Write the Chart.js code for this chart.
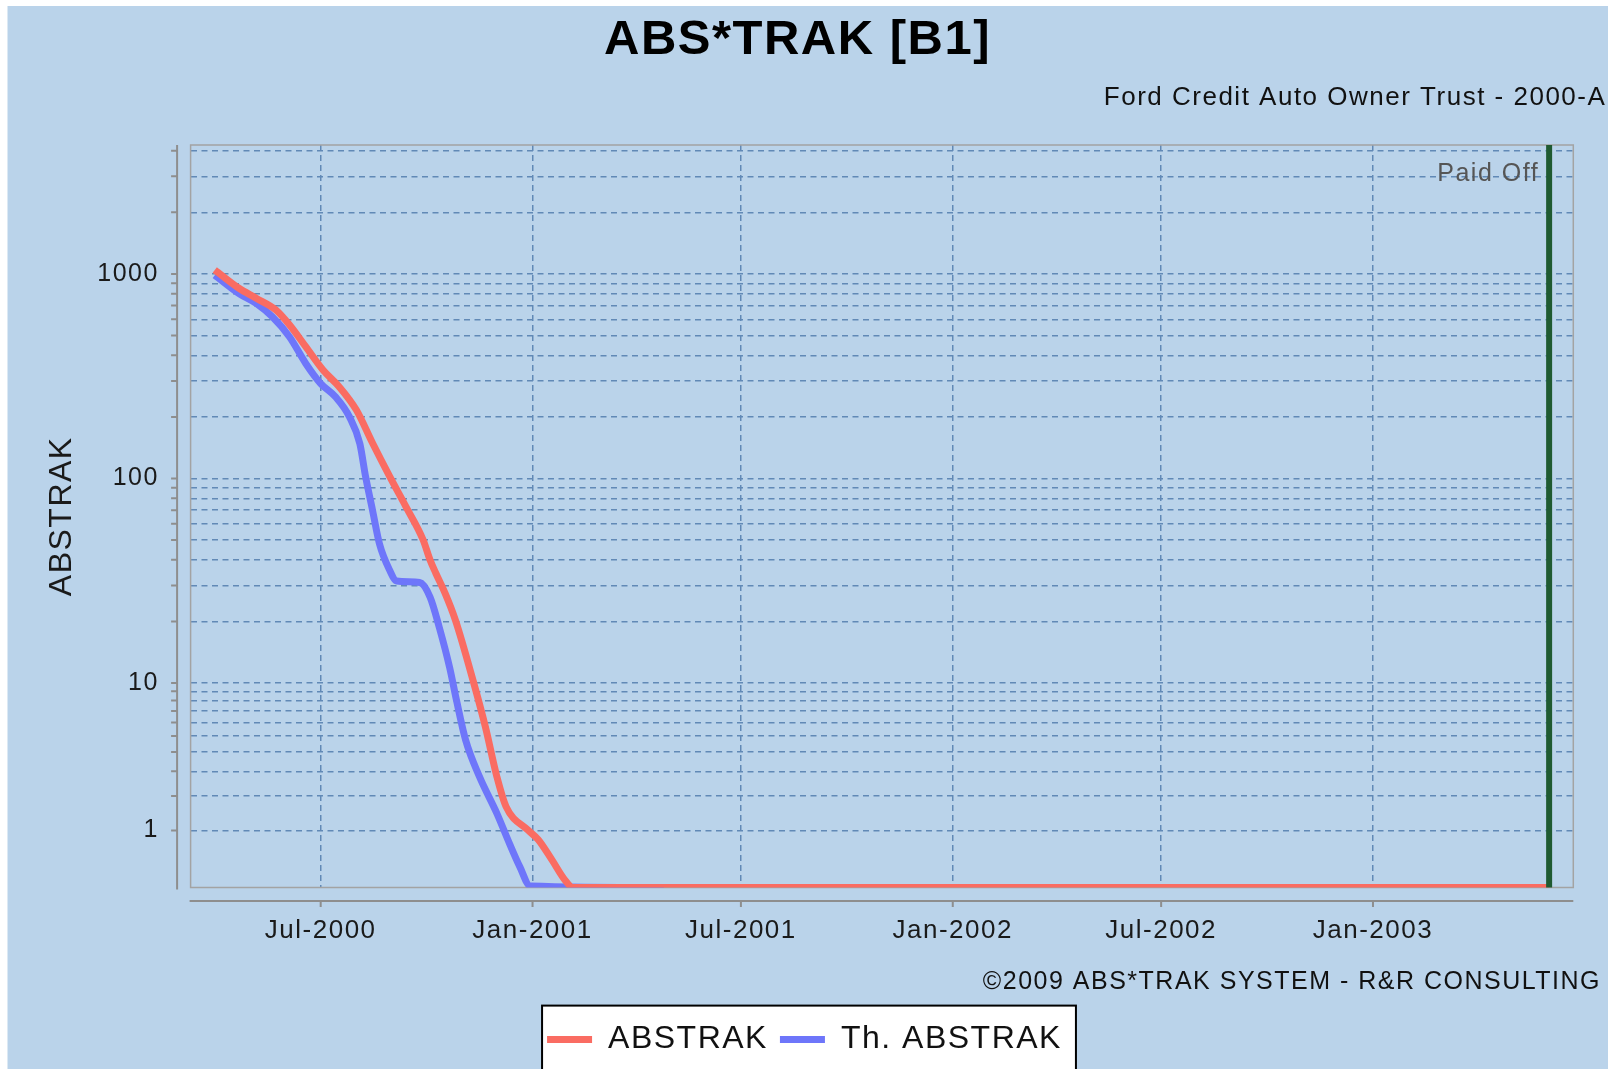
<!DOCTYPE html>
<html>
<head>
<meta charset="utf-8">
<title>ABS*TRAK [B1]</title>
<script src="https://cdn.jsdelivr.net/npm/chart.js@4.4.1/dist/chart.umd.min.js"></script>
<style>
    html, body { margin: 0; padding: 0; background: #fff; }
    #chart { display: block; }
</style>
</head>
<body>
<canvas id="chart" width="1616" height="1069"></canvas>
<script>
(function () {
    "use strict";

    // ABSTRAK series (dates / values)
    var abstrakDates = ['2000-03-31', '2000-04-21', '2000-05-06', '2000-05-23', '2000-06-04', '2000-06-18',
        '2000-07-03', '2000-07-17', '2000-08-01', '2000-08-15', '2000-08-30', '2000-09-13', '2000-09-28',
        '2000-10-04', '2000-10-09', '2000-10-17', '2000-10-26', '2000-11-11', '2000-11-21', '2000-12-01',
        '2000-12-09', '2000-12-28', '2001-01-06', '2001-01-18', '2001-01-29', '2001-02-05', '2003-06-03'];
    var abstrakValues = [1046, 851, 761, 667, 563, 441,
        339, 281, 216, 149, 102, 72.8, 50,
        39.9, 34.4, 27.5, 20.3, 9.96, 5.68, 2.76,
        1.65, 1.01, 0.79, 0.40, 0.10, 0, 0];

    // Th. ABSTRAK series
    var theoryDates = ['2000-03-31', '2000-04-21', '2000-05-06', '2000-05-20', '2000-06-04', '2000-06-18',
        '2000-07-01', '2000-07-14', '2000-07-26', '2000-08-04', '2000-08-09', '2000-08-15', '2000-08-21',
        '2000-08-30', '2000-09-05', '2000-09-25', '2000-10-04', '2000-10-12', '2000-10-21', '2000-10-27',
        '2000-11-04', '2000-11-16', '2000-12-01', '2000-12-12', '2000-12-21', '2000-12-30', '2001-04-25'];
    var theoryValues = [986, 802, 717, 617, 492, 365,
        291, 250, 200, 148, 102, 70, 48,
        35.5, 31.5, 31, 26.3, 18.7, 11.9, 8.0,
        4.7, 2.75, 1.45, 0.71, 0.29, 0.02, 0];

    // Axes
    var xTickDates = ['2000-07-01', '2001-01-01', '2001-07-01', '2002-01-01', '2002-07-01', '2003-01-01'];
    var xTickLabels = ['Jul-2000', 'Jan-2001', 'Jul-2001', 'Jan-2002', 'Jul-2002', 'Jan-2003'];
    var xRange = ['2000-03-10', '2003-06-24'];
    var yLabelValues = [1, 10, 100, 1000];
    var yMax = 4270;
    var paidOffDate = '2003-06-03';

    var titleText = 'ABS*TRAK [B1]';
    var subtitleText = 'Ford Credit Auto Owner Trust - 2000-A';
    var footerText = '\u00a92009 ABS*TRAK SYSTEM - R&R CONSULTING';
    var paidOffText = 'Paid Off';

    var BG = '#bad3ea';
    var GRID = '#6189b6';
    var FONT = "'Liberation Sans', Arial, sans-serif";
    var SPACING = '1.5px';
    var LEGEND_SHIFT = 7;


    // log axis as in the original: values below 10 are squeezed toward 0
    function adjLog(v) {
        var neg = v < 0;
        var a = Math.abs(v);
        if (a < 10) a += (10 - a) / 10;
        var r = Math.log10(a);
        return neg ? -r : r;
    }
    function adjExp(r) {
        var neg = r < 0;
        var a = Math.pow(10, Math.abs(r));
        if (a < 10) a = (a - 1) / 0.9;
        return neg ? -a : a;
    }

    class AdjLogScale extends Chart.LinearScale {
        buildTicks() {
            this.start = this.min;
            this.end = this.max;
            var ticks = [];
            for (var d = 1; d <= this.max; d *= 10) {
                for (var m = 1; m <= 9 && m * d <= this.max; m++) {
                    ticks.push({value: m * d});
                }
            }
            return ticks;
        }
        configure() {
            super.configure();
            this._adjStart = adjLog(this.min);
            this._adjRange = adjLog(this.max) - this._adjStart;
        }
        getPixelForValue(value) {
            return this.getPixelForDecimal((adjLog(value) - this._adjStart) / this._adjRange);
        }
        getValueForPixel(pixel) {
            return adjExp(this.getDecimalForPixel(pixel) * this._adjRange + this._adjStart);
        }
    }
    AdjLogScale.id = 'adjlog';
    AdjLogScale.defaults = Chart.LinearScale.defaults;
    Chart.register(AdjLogScale);


    function toPoints(dates, values) {
        return dates.map(function (d, i) {
            return {x: Date.parse(d), y: values[i]};
        });
    }


    // background, legend frame, offset axes, paid-off marker, extra texts
    var decor = {
        id: 'decor',
        beforeLayout: function (chart) {
            chart.ctx.letterSpacing = SPACING;
        },
        afterLayout: function (chart) {
            var lg = chart.legend;
            lg.left += LEGEND_SHIFT;
            lg.right += LEGEND_SHIFT;
            (lg.legendHitBoxes || []).forEach(function (h) {
                h.left += LEGEND_SHIFT;
            });
        },
        beforeDraw: function (chart) {
            var ctx = chart.ctx;
            ctx.letterSpacing = SPACING;
            ctx.save();
            ctx.fillStyle = BG;
            ctx.fillRect(7.5, 6, 1600.5, chart.height - 6);

            var hb = chart.legend.legendHitBoxes;
            if (hb && hb.length) {
                var first = hb[0], last = hb[hb.length - 1];
                var mid = first.top + first.height / 2;
                var left = first.left - 5;
                var right = last.left + last.width + 14;
                ctx.fillStyle = '#ffffff';
                ctx.fillRect(left, mid - 34, right - left, 80);
                ctx.strokeStyle = '#000000';
                ctx.lineWidth = 2;
                ctx.strokeRect(left, mid - 34, right - left, 80);
            }
            ctx.restore();
        },
        beforeDatasetsDraw: function (chart) {
            var ctx = chart.ctx;
            var a = chart.chartArea;
            var xs = chart.scales.x, ys = chart.scales.y;
            ctx.save();
            ctx.strokeStyle = '#a3a3a3';
            ctx.lineWidth = 1.5;
            ctx.strokeRect(a.left, a.top, a.right - a.left, a.bottom - a.top);

            ctx.strokeStyle = '#8e8e8e';
            ctx.lineWidth = 2;
            var axX = a.left - 13.5;
            ctx.beginPath();
            ctx.moveTo(axX, a.top);
            ctx.lineTo(axX, a.bottom + 2);
            ys.ticks.forEach(function (t) {
                var py = ys.getPixelForValue(t.value);
                ctx.moveTo(axX - 6, py);
                ctx.lineTo(axX, py);
            });
            var axY = a.bottom + 13.5;
            ctx.moveTo(a.left - 1, axY);
            ctx.lineTo(a.right, axY);
            xs.ticks.forEach(function (t) {
                var px = xs.getPixelForValue(t.value);
                ctx.moveTo(px, axY);
                ctx.lineTo(px, axY + 6);
            });
            ctx.stroke();
            ctx.restore();
        },
        afterDatasetsDraw: function (chart) {
            var ctx = chart.ctx;
            var a = chart.chartArea;
            var px = chart.scales.x.getPixelForValue(Date.parse(paidOffDate));
            ctx.save();
            ctx.strokeStyle = '#1f5a31';
            ctx.lineWidth = 6;
            ctx.beginPath();
            ctx.moveTo(px, a.top);
            ctx.lineTo(px, a.bottom);
            ctx.stroke();
            ctx.font = '25px ' + FONT;
            ctx.fillStyle = '#555555';
            ctx.textAlign = 'right';
            ctx.textBaseline = 'middle';
            ctx.fillText(paidOffText, px - 10, a.top + 29);
            ctx.restore();
        },
        afterDraw: function (chart) {
            var ctx = chart.ctx;
            ctx.save();
            ctx.fillStyle = '#111111';
            ctx.textAlign = 'right';
            ctx.textBaseline = 'middle';
            ctx.font = '26px ' + FONT;
            ctx.fillText(subtitleText, 1606.3, 98.1);
            ctx.font = '25px ' + FONT;
            ctx.fillText(footerText, 1601, 982);
            ctx.restore();
        }
    };


    Chart.defaults.font.family = FONT;
    Chart.defaults.color = '#111111';

    var ctx = document.getElementById('chart').getContext('2d');
    var myChart = new Chart(ctx, {
        type: 'line',
        data: {
            datasets: [{
                label: 'ABSTRAK',
                data: toPoints(abstrakDates, abstrakValues),
                borderColor: '#fa6c62',
                backgroundColor: '#fa6c62',
                borderWidth: 7,
                pointRadius: 0,
                cubicInterpolationMode: 'monotone',
                fill: false
            }, {
                label: 'Th. ABSTRAK',
                data: toPoints(theoryDates, theoryValues),
                borderColor: '#6e76fa',
                backgroundColor: '#6e76fa',
                borderWidth: 7,
                pointRadius: 0,
                cubicInterpolationMode: 'monotone',
                fill: false
            }]
        },
        options: {
            responsive: false,
            animation: false,
            events: [],
            layout: {
                padding: {left: 21.7, right: 42.7, top: 0, bottom: 3.4}
            },
            scales: {
                x: {
                    type: 'linear',
                    min: Date.parse(xRange[0]),
                    max: Date.parse(xRange[1]),
                    afterBuildTicks: function (scale) {
                        scale.ticks = xTickDates.map(function (d) {
                            return {value: Date.parse(d)};
                        });
                    },
                    afterFit: function (scale) {
                        scale.height = 124.1;
                    },
                    ticks: {
                        autoSkip: false,
                        maxRotation: 0,
                        padding: 28,
                        color: '#1a1a1a',
                        font: {size: 26},
                        callback: function (value, index) {
                            return xTickLabels[index];
                        }
                    },
                    grid: {
                        color: GRID,
                        lineWidth: 1.5,
                        drawTicks: false
                    },
                    border: {display: false, dash: [6, 4]}
                },
                y: {
                    type: 'adjlog',
                    min: 0,
                    max: yMax,
                    afterFit: function (scale) {
                        scale.width = 168.9;
                    },
                    title: {
                        display: true,
                        text: 'ABSTRAK',
                        color: '#1a1a1a',
                        font: {size: 32},
                        padding: {top: 21.5, bottom: 0}
                    },
                    ticks: {
                        autoSkip: false,
                        padding: 31.7,
                        color: '#1a1a1a',
                        font: {size: 25},
                        callback: function (value) {
                            return yLabelValues.indexOf(value) >= 0 ? String(value) : '';
                        }
                    },
                    grid: {
                        color: GRID,
                        lineWidth: 1.5,
                        drawTicks: false
                    },
                    border: {display: false, dash: [6, 4.5]}
                }
            },
            plugins: {
                title: {
                    display: true,
                    text: titleText,
                    color: '#000000',
                    font: {size: 49, weight: 'bold'},
                    padding: {top: 10.9, bottom: 75.3}
                },
                legend: {
                    position: 'bottom',
                    labels: {
                        color: '#111111',
                        font: {size: 32},
                        usePointStyle: true,
                        pointStyle: 'line',
                        pointStyleWidth: 45,
                        padding: 12
                    }
                },
                tooltip: {enabled: false}
            }
        },
        plugins: [decor]
    });

})();
</script>
</body>
</html>
